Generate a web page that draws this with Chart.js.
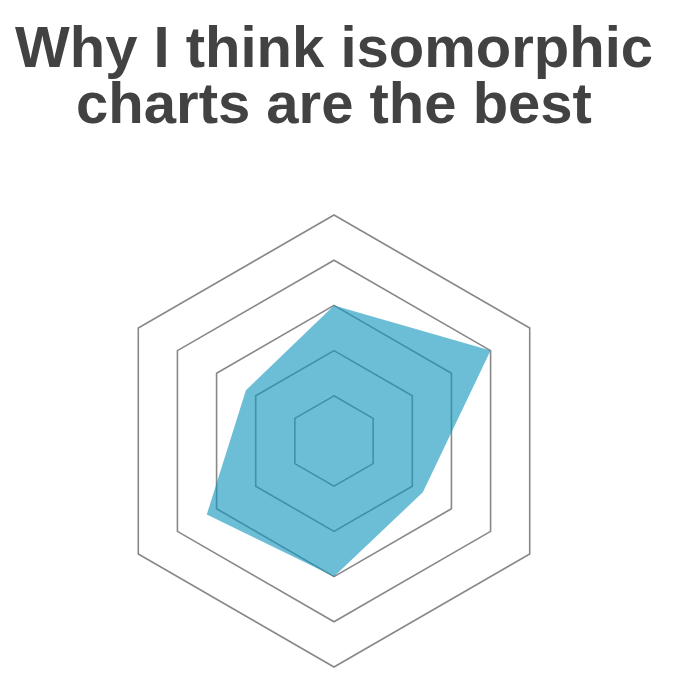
<!DOCTYPE html>
<html>
<head>
<meta charset="utf-8">
<script src="https://cdn.jsdelivr.net/npm/chart.js@4/dist/chart.umd.min.js"></script>
<style>
  html, body { margin: 0; padding: 0; background: #ffffff; }
  #wrap { position: relative; width: 682px; height: 700px; }
</style>
</head>
<body>
<div id="wrap"><canvas id="c" width="682" height="700"></canvas></div>
<script>
const titleLines = ['Why I think isomorphic', 'charts are the best'];
const categories = ['A', 'B', 'C', 'D', 'E', 'F'];
const seriesValues = [3, 4, 2.27, 3, 3.25, 2.25];
const scaleTicks = [0, 1, 2, 3, 4, 5];

new Chart(document.getElementById('c'), {
  type: 'radar',
  data: {
    labels: categories,
    datasets: [{
      data: seriesValues,
      backgroundColor: 'rgba(16,150,189,0.62)',
      borderWidth: 0,
      pointRadius: 0,
      fill: true
    }]
  },
  options: {
    responsive: false,
    animation: false,
    layout: { padding: { top: 0, left: 0, right: 14, bottom: 33 } },
    plugins: {
      legend: { display: false },
      tooltip: { enabled: false },
      title: {
        display: true,
        text: titleLines,
        color: '#424242',
        font: { family: "'Liberation Sans', Arial, sans-serif", size: 58, weight: 'bold', lineHeight: '56px' },
        padding: { top: 23, bottom: 80 }
      }
    },
    scales: {
      r: {
        min: scaleTicks[0],
        max: scaleTicks[scaleTicks.length - 1],
        ticks: { display: false, stepSize: 1 },
        angleLines: { display: false },
        pointLabels: { display: false },
        grid: { color: '#888888', lineWidth: 1.6 }
      }
    }
  }
});
</script>
</body>
</html>
